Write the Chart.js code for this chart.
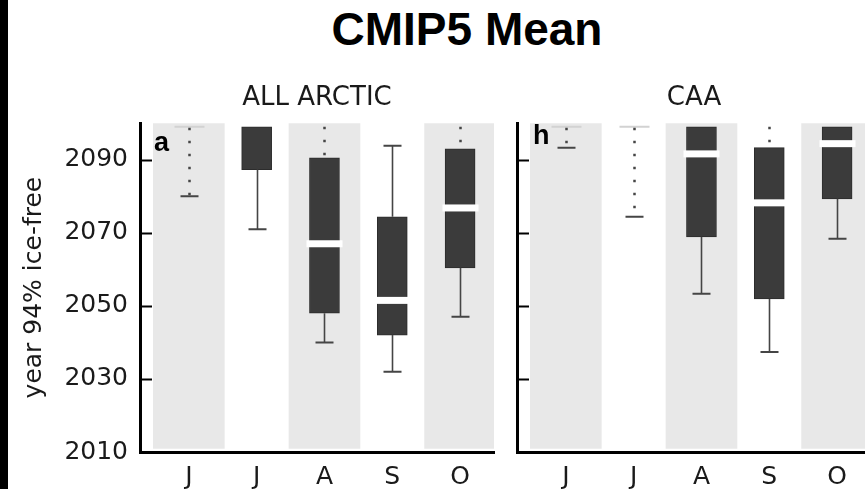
<!DOCTYPE html>
<html>
<head>
<meta charset="utf-8">
<title>CMIP5 Mean</title>
<script src="https://cdn.jsdelivr.net/npm/chart.js@4.4.1/dist/chart.umd.min.js"></script>
<style>
  html, body { margin: 0; padding: 0; background: #fff; overflow: hidden; }
  body { width: 865px; height: 489px; position: relative; }
  #edge { position: absolute; left: 0; top: 0; width: 8px; height: 489px; background: #000; }
  #title {
    position: absolute; left: 467px; top: 6px; transform: translateX(-50%);
    font: bold 46px "Liberation Sans", Arial, sans-serif; line-height: 46px;
    color: #000; white-space: nowrap;
  }
  canvas { position: absolute; top: 0; }
  #arcticChart { left: 0; }
  #caaChart { left: 500px; }
</style>
</head>
<body>
<div id="edge"></div>
<div id="title">CMIP5 Mean</div>
<canvas id="arcticChart" width="500" height="489"></canvas>
<canvas id="caaChart" width="380" height="489"></canvas>

<script>
// === Data (years) ===
const months = ["J", "J", "A", "S", "O"];
const yearTicks = [2010, 2030, 2050, 2070, 2090];
const bandMonths = [0, 2, 4];
const bandRange = [2011, 2100];

// ALL ARCTIC
const arcticLow = [2080, 2071, 2040, 2032, 2047];
const arcticQ1 = [2099, 2087.3, 2048, 2042, 2060.4];
const arcticMedian = [null, null, 2067, 2051.5, 2076.8];
const arcticQ3 = [2099, 2099, 2090.5, 2074.4, 2093];
const arcticHigh = [2099, 2099, 2099, 2093.8, 2099];
const arcticLowDotted = [true, false, false, false, false];
const arcticHighDotted = [false, false, true, false, true];

// CAA
const caaLow = [2093.3, 2074.4, 2053.3, 2037.4, 2068.4];
const caaQ1 = [2099, 2099, 2068.9, 2051.9, 2079.3];
const caaMedian = [null, null, 2091.6, 2078.2, 2094.4];
const caaQ3 = [2099, 2099, 2099, 2093.3, 2099];
const caaHigh = [2099, 2099, 2099, 2099, 2099];
const caaLowDotted = [true, true, false, false, false];
const caaHighDotted = [false, false, false, true, false];

const FONT = "'DejaVu Sans', sans-serif";
const TEXT = "#1a1a1a";

// === Whiskers, medians, inward ticks, panel letter ===
const boxPlugin = {
  id: "boxWhiskers",
  afterDatasetsDraw(chart, args, o) {
    const { ctx, chartArea, scales: { x, y } } = chart;
    ctx.save();

    // inward y ticks
    ctx.strokeStyle = "#000";
    ctx.lineWidth = 2;
    y.ticks.forEach((t) => {
      if (t.value === yearTicks[0]) return;
      const py = Math.round(y.getPixelForValue(t.value)) + 0.5;
      ctx.beginPath();
      ctx.moveTo(chartArea.left, py);
      ctx.lineTo(chartArea.left + 12, py);
      ctx.stroke();
    });

    ctx.beginPath();
    ctx.rect(chartArea.left, chartArea.top - 6, chartArea.width, chartArea.height + 6);
    ctx.clip();

    o.q1.forEach((q1, i) => {
      const cx = Math.round(x.getPixelForValue(i)) + 0.5;
      const q3 = o.q3[i];
      const pQ1 = y.getPixelForValue(q1);
      const pQ3 = y.getPixelForValue(q3);
      const pLow = y.getPixelForValue(o.low[i]);
      const pHigh = y.getPixelForValue(o.high[i]);

      const whisker = (from, to, dotted) => {
        ctx.beginPath();
        ctx.strokeStyle = "#454545";
        if (dotted) {
          ctx.setLineDash([2.5, 10.5]);
          ctx.lineWidth = 2.5;
        } else {
          ctx.setLineDash([]);
          ctx.lineWidth = 1.6;
        }
        ctx.moveTo(cx, from);
        ctx.lineTo(cx, to);
        ctx.stroke();
        ctx.setLineDash([]);
      };
      const cap = (py) => {
        ctx.beginPath();
        ctx.strokeStyle = "#454545";
        ctx.lineWidth = 2;
        ctx.moveTo(cx - 9, py);
        ctx.lineTo(cx + 9, py);
        ctx.stroke();
      };

      // collapsed box drawn as a faint line
      if (q1 === q3) {
        ctx.beginPath();
        ctx.strokeStyle = "#d2d2d2";
        ctx.lineWidth = 2;
        ctx.moveTo(cx - 15, pQ3);
        ctx.lineTo(cx + 15, pQ3);
        ctx.stroke();
      }

      // lower whisker (drawn top-down so the dots start at the box)
      if (o.low[i] < q1) {
        whisker(pQ1 + (q1 === q3 ? 1 : 0), pLow, o.lowDotted[i]);
        cap(pLow);
      }
      // upper whisker
      if (o.high[i] > q3) {
        whisker(pHigh, pQ3, o.highDotted[i]);
        if (!o.highDotted[i]) cap(pHigh);
      }

      // median
      if (o.median[i] !== null) {
        const pm = y.getPixelForValue(o.median[i]);
        ctx.fillStyle = "#fff";
        ctx.fillRect(cx - 18, pm - 3.5, 36, 7);
      }
    });
    ctx.restore();

    // panel letter
    ctx.save();
    ctx.fillStyle = "#000";
    ctx.font = "bold 27px 'Liberation Sans', Arial, sans-serif";
    ctx.textBaseline = "alphabetic";
    ctx.fillText(o.letter, chartArea.left + o.letterDx, chartArea.top + o.letterDy);
    ctx.restore();
  },
};

// === Build one panel ===
function makePanel(canvasId, cfg) {
  const boxIdx = cfg.q1.map((v, i) => i).filter((i) => cfg.q1[i] !== cfg.q3[i]);
  new Chart(document.getElementById(canvasId), {
    type: "bar",
    data: {
      datasets: [
        {
          label: "bands",
          data: bandMonths.map((i) => ({ x: i, y: bandRange })),
          backgroundColor: "#e8e8e8",
          barThickness: 71,
          grouped: false,
          order: 2,
        },
        {
          label: "boxes",
          data: boxIdx.map((i) => ({ x: i, y: [cfg.q1[i], cfg.q3[i]] })),
          backgroundColor: "#3b3b3b",
          borderColor: "#2c2c2c",
          borderWidth: 1,
          borderSkipped: false,
          barThickness: 30,
          grouped: false,
          order: 1,
        },
      ],
    },
    options: {
      responsive: false,
      animation: false,
      layout: { padding: { left: 0, right: cfg.padRight, top: 0, bottom: 0 } },
      plugins: {
        legend: { display: false },
        tooltip: { enabled: false },
        title: {
          display: true,
          text: cfg.title,
          fullSize: false,
          color: TEXT,
          font: { family: FONT, size: 26, weight: "normal" },
          padding: { top: 83, bottom: 9 },
        },
        boxWhiskers: {
          low: cfg.low, q1: cfg.q1, median: cfg.median, q3: cfg.q3, high: cfg.high,
          lowDotted: cfg.lowDotted, highDotted: cfg.highDotted,
          letter: cfg.letter, letterDx: cfg.letterDx, letterDy: cfg.letterDy,
        },
      },
      scales: {
        x: {
          type: "linear",
          min: -0.72,
          max: 4.5,
          offset: false,
          grid: { display: false, drawTicks: false },
          border: { display: true, color: "#000", width: 3 },
          afterBuildTicks: (s) => { s.ticks = months.map((m, i) => ({ value: i })); },
          afterFit: (s) => { s.height = 37; },
          ticks: {
            autoSkip: false,
            maxRotation: 0,
            padding: 10,
            color: TEXT,
            font: { family: FONT, size: 25 },
            callback: (v, i) => months[i],
          },
        },
        y: {
          min: 2010,
          max: 2100,
          grid: { display: false, drawTicks: false },
          border: { display: true, color: "#000", width: 3 },
          afterBuildTicks: (s) => { s.ticks = yearTicks.map((v) => ({ value: v })); },
          afterFit: (s) => { s.width = cfg.yWidth; },
          title: {
            display: cfg.showYLabels,
            text: "year 94% ice-free",
            color: TEXT,
            font: { family: FONT, size: 25 },
            padding: { top: 19, bottom: 0 },
          },
          ticks: {
            display: cfg.showYLabels,
            padding: 12,
            color: TEXT,
            font: { family: FONT, size: 25 },
            callback: (v) => String(v),
          },
        },
      },
    },
    plugins: [boxPlugin],
  });
}

window.addEventListener("DOMContentLoaded", () => {
  makePanel("arcticChart", {
    title: "ALL ARCTIC",
    low: arcticLow, q1: arcticQ1, median: arcticMedian, q3: arcticQ3, high: arcticHigh,
    lowDotted: arcticLowDotted, highDotted: arcticHighDotted,
    letter: "a", letterDx: 14, letterDy: 28,
    showYLabels: true, yWidth: 140, padRight: 6,
  });
  makePanel("caaChart", {
    title: "CAA",
    low: caaLow, q1: caaQ1, median: caaMedian, q3: caaQ3, high: caaHigh,
    lowDotted: caaLowDotted, highDotted: caaHighDotted,
    letter: "h", letterDx: 16, letterDy: 21,
    showYLabels: false, yWidth: 17, padRight: 9,
  });
});
</script>
</body>
</html>
